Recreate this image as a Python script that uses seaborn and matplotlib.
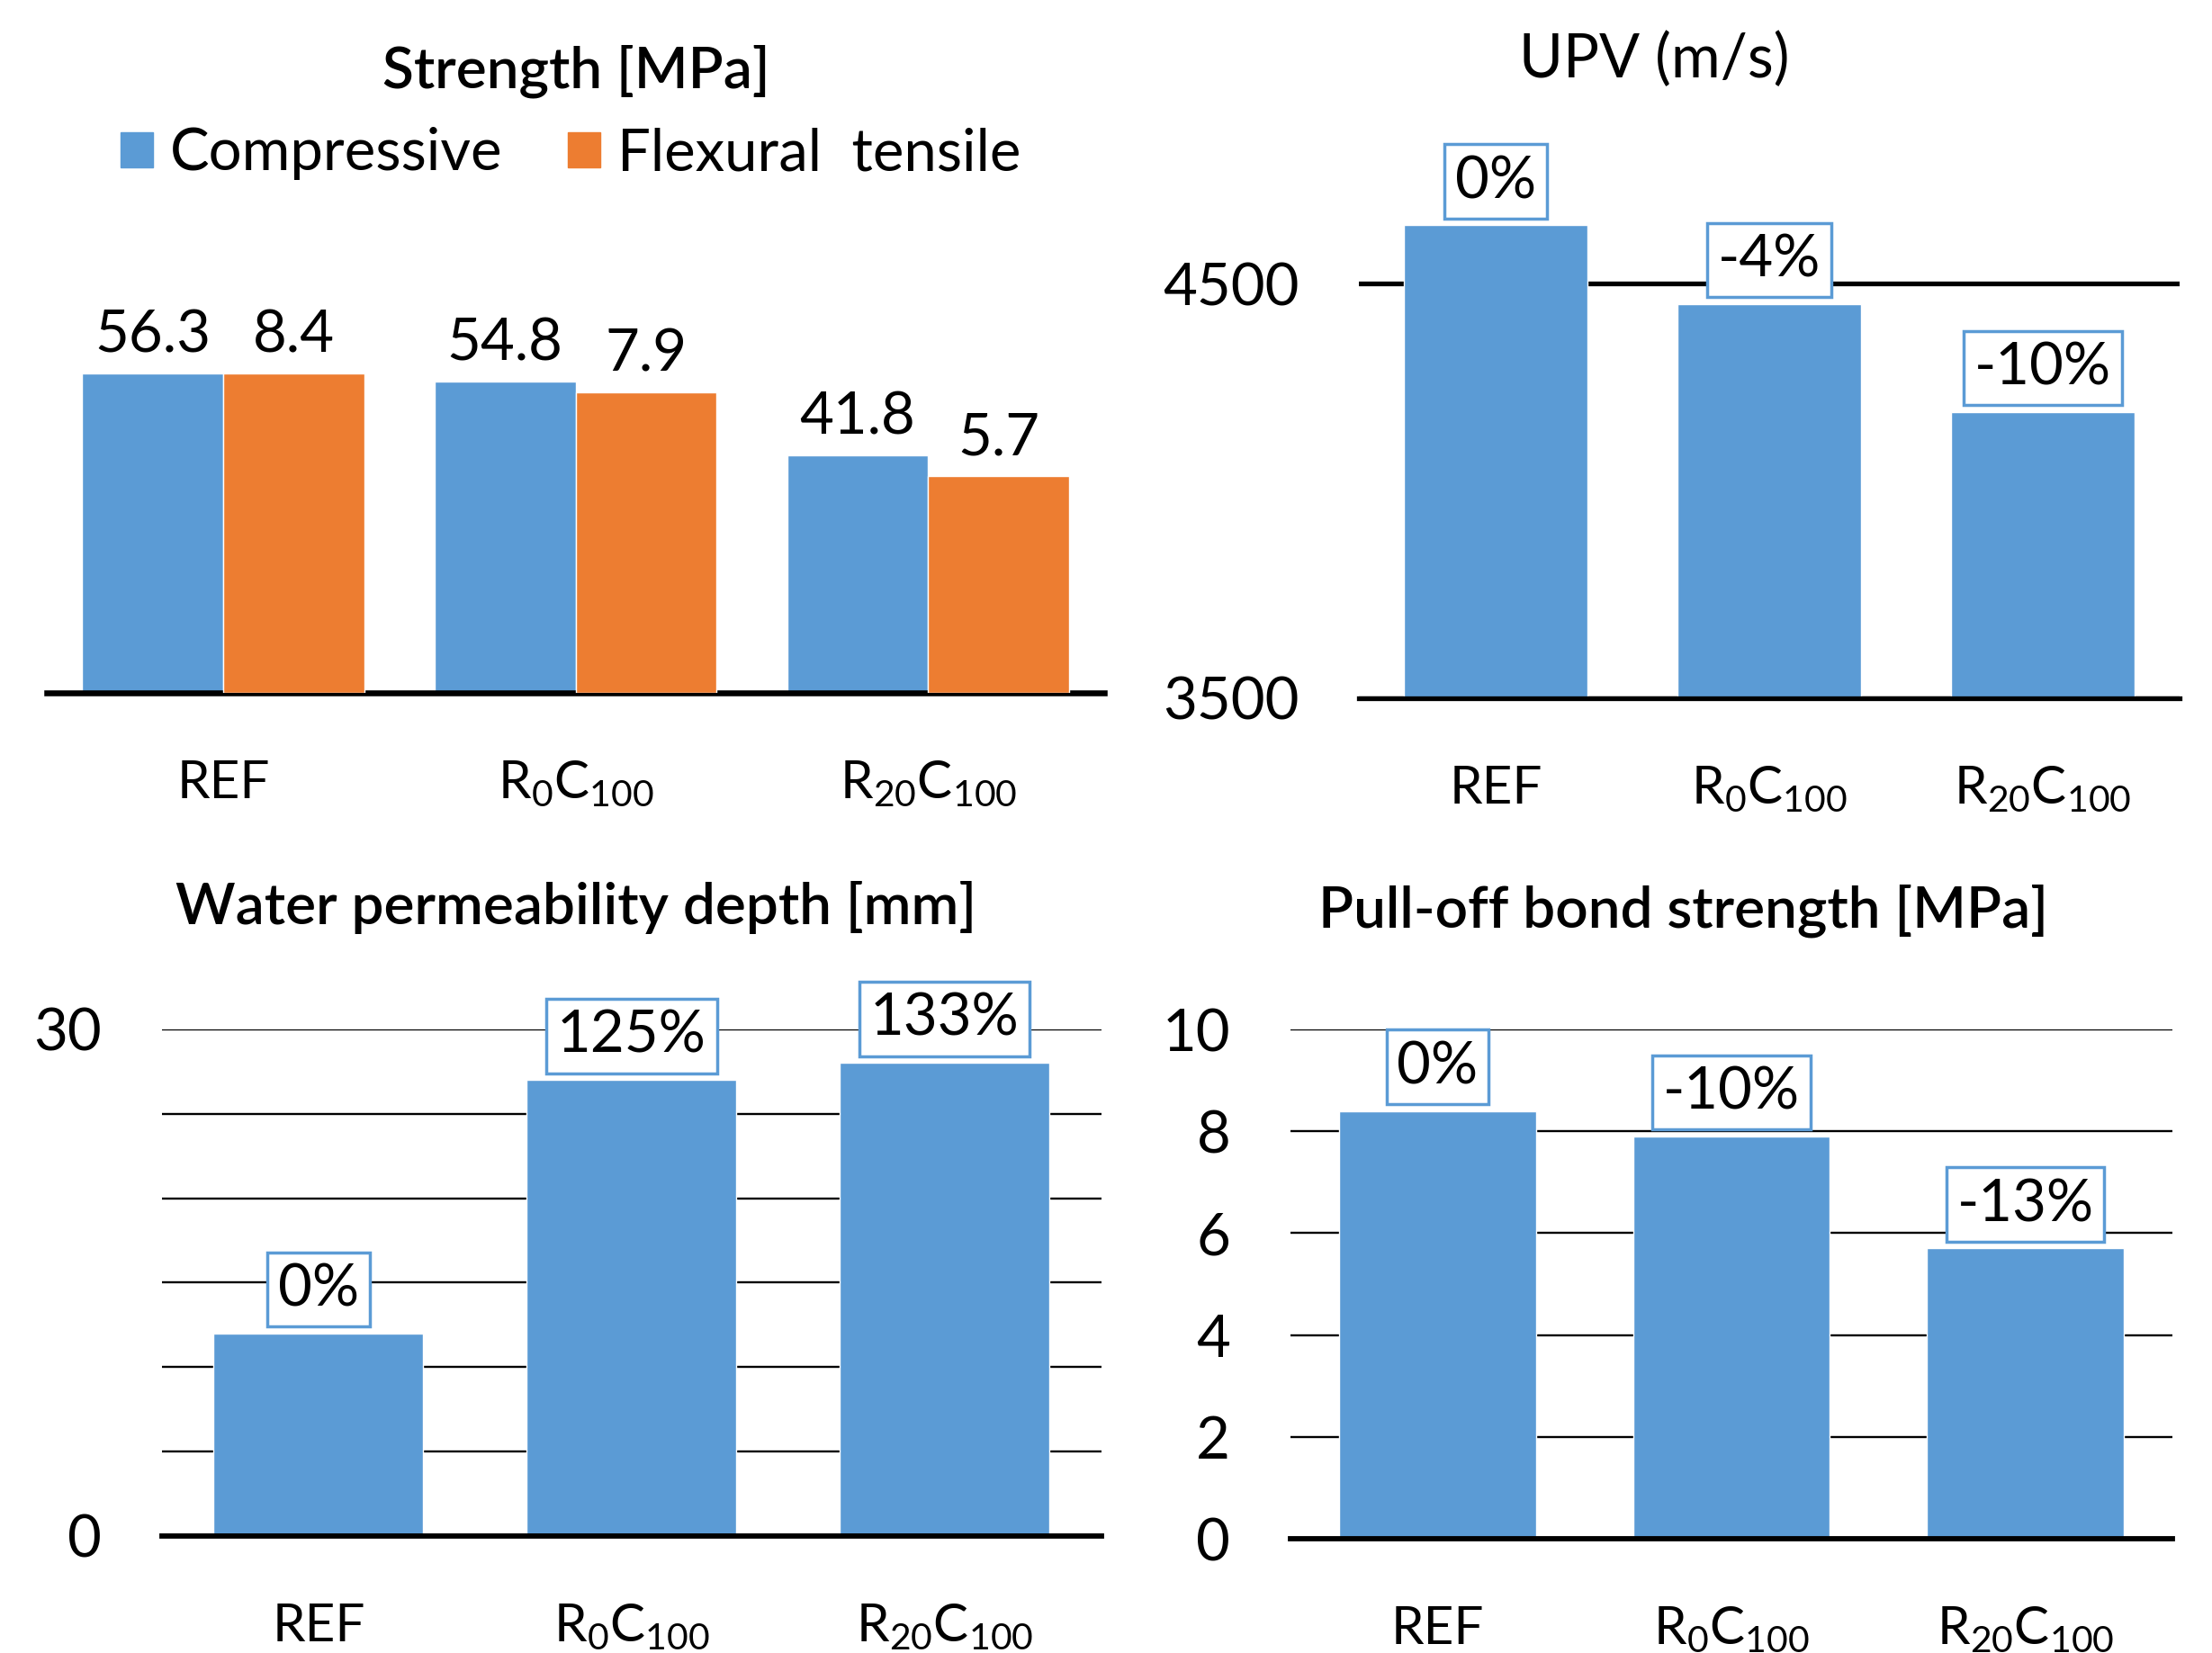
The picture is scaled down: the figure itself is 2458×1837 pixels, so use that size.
import numpy as np
import pandas as pd
import seaborn as sns
from matplotlib import pyplot as plt
from matplotlib.patches import Patch

# ---- data ----
categories = ["REF", r"R$_{0}$C$_{100}$", r"R$_{20}$C$_{100}$"]
series_names = ["Compressive", "Flexural  tensile"]
compressive = [56.3, 54.8, 41.8]
flexural = [8.4, 7.9, 5.7]

upv = [4640, 4450, 4190]
upv_pct = ["0%", "-4%", "-10%"]

water = [12, 27, 28]
water_pct = ["0%", "125%", "133%"]

pulloff = [8.4, 7.9, 5.7]
pulloff_pct = ["0%", "-10%", "-13%"]

BLUE = "#5B9BD5"
ORANGE = "#ED7D31"

sns.set_theme(style="white")
plt.rcParams['font.family'] = ['Lato', 'DejaVu Sans']
plt.rcParams['mathtext.fontset'] = 'custom'
plt.rcParams['mathtext.rm'] = 'Lato'
plt.rcParams['mathtext.default'] = 'regular'
plt.rcParams['text.color'] = 'black'
plt.rcParams['xtick.color'] = 'black'
plt.rcParams['ytick.color'] = 'black'

TICK_FS = 42
NUM_FS = 47
TITLE_FS = 46
box = dict(boxstyle="square,pad=0.18", fc="white", ec=BLUE, lw=2.5)


def label_bars(ax, labels, offset, **kw):
    # label the drawn bars, left to right
    bars = sorted([p for p in ax.patches if p.get_height() > 0], key=lambda p: p.get_x())
    for p, txt in zip(bars, labels):
        ax.annotate(txt, (p.get_x() + p.get_width() / 2, p.get_y() + p.get_height()),
                    xytext=(0, offset), textcoords="offset points",
                    ha="center", va="bottom", fontsize=NUM_FS, **kw)


def style_axis(ax, bottom_lw):
    sns.despine(ax=ax, left=True, top=True, right=True)
    ax.spines['bottom'].set_color("black")
    ax.spines['bottom'].set_linewidth(bottom_lw)
    ax.set_xlabel("")
    ax.set_ylabel("")
    ax.tick_params(axis="x", length=0, pad=84, labelsize=TICK_FS)
    ax.tick_params(axis="y", length=0, pad=48, labelsize=NUM_FS)
    for lbl in ax.get_xticklabels():
        lbl.set_va("baseline")


fig = plt.figure(figsize=(24.58, 18.37), dpi=100, facecolor="white")

# ---- Strength ----
strength = pd.DataFrame({
    "cat": categories * 2,
    "value": compressive + flexural,
    "series": [series_names[0]] * 3 + [series_names[1]] * 3,
})

ax1 = fig.add_axes([0.0212, 0.5808, 0.478, 0.2559])
sns.barplot(data=strength[strength.series == series_names[0]], x="cat", y="value",
            hue="series", hue_order=series_names, palette=[BLUE, ORANGE], dodge=True,
            saturation=1, width=0.8, errorbar=None, legend=False, ax=ax1)
ax1b = ax1.twinx()
sns.barplot(data=strength[strength.series == series_names[1]], x="cat", y="value",
            hue="series", hue_order=series_names, palette=[BLUE, ORANGE], dodge=True,
            saturation=1, width=0.8, errorbar=None, legend=False, ax=ax1b)
ax1.set_ylim(0, 74.5)
ax1b.set_ylim(0, 11.12)
ax1.set_yticks([])
ax1b.set_yticks([])
ax1b.set_ylabel("")
sns.despine(ax=ax1b, left=True, top=True, right=True, bottom=True)
style_axis(ax1, 4.7)
label_bars(ax1, [f"{v:.1f}" for v in compressive], 9)
label_bars(ax1b, [f"{v:.1f}" for v in flexural], 9)

fig.text(0.2604, 0.947, "Strength [MPa]", ha="center", va="baseline",
         fontsize=TITLE_FS, fontweight="semibold")
handles = [Patch(color=BLUE), Patch(color=ORANGE)]
fig.legend(handles, series_names, loc="center", bbox_to_anchor=(0.258, 0.907),
           ncol=2, frameon=False, fontsize=NUM_FS, handlelength=0.55,
           handleheight=0.55, handletextpad=0.3, columnspacing=1.1)

# ---- UPV ----
ax2 = fig.add_axes([0.6143, 0.5776, 0.371, 0.3262])
sns.barplot(x=categories, y=upv, color=BLUE, saturation=1, width=0.67,
            errorbar=None, ax=ax2)
ax2.set_ylim(3500, 4800)
ax2.set_yticks([3500, 4500])
ax2.yaxis.grid(True, color="black", lw=3.8)
ax2.set_axisbelow(True)
style_axis(ax2, 3.8)
label_bars(ax2, upv_pct, 14, bbox=box)
fig.text(0.748, 0.953, "UPV (m/s)", ha="center", va="baseline",
         fontsize=48)

# ---- Water permeability ----
ax3 = fig.add_axes([0.0732, 0.0708, 0.4247, 0.3065])
sns.barplot(x=categories, y=water, color=BLUE, saturation=1, width=0.67,
            errorbar=None, ax=ax3)
ax3.set_ylim(0, 30)
ax3.set_yticks(np.arange(0, 31, 5))
ax3.set_yticklabels(["0", "", "", "", "", "", "30"])
ax3.yaxis.grid(True, color="black", lw=1.7)
ax3.set_axisbelow(True)
style_axis(ax3, 4.2)
label_bars(ax3, water_pct, 14, bbox=box)
fig.text(0.2604, 0.441, "Water permeability depth [mm]", ha="center", va="baseline",
         fontsize=TITLE_FS, fontweight="semibold")

# ---- Pull-off ----
ax4 = fig.add_axes([0.5834, 0.0691, 0.3987, 0.3081])
sns.barplot(x=categories, y=pulloff, color=BLUE, saturation=1, width=0.67,
            errorbar=None, ax=ax4)
ax4.set_ylim(0, 10)
ax4.set_yticks(np.arange(0, 11, 2))
ax4.yaxis.grid(True, color="black", lw=1.7)
ax4.set_axisbelow(True)
style_axis(ax4, 4.2)
label_bars(ax4, pulloff_pct, 14, bbox=box)
fig.text(0.7608, 0.4393, "Pull-off bond strength [MPa]", ha="center", va="baseline",
         fontsize=TITLE_FS, fontweight="semibold")

fig.savefig("out.png", dpi=100, facecolor="white")
